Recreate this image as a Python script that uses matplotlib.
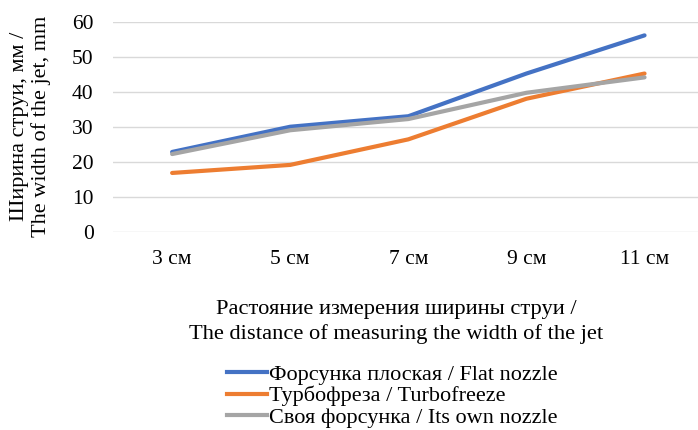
import matplotlib
matplotlib.use("Agg")
import matplotlib.pyplot as plt
from matplotlib.lines import Line2D

categories = ["3 см", "5 см", "7 см", "9 см", "11 см"]
flat = [22.8, 30.0, 33.0, 45.2, 56.1]
turbo = [16.8, 19.1, 26.4, 38.0, 45.2]
own = [22.2, 29.0, 32.2, 39.7, 44.1]
labels = ["Форсунка плоская / Flat nozzle", "Турбофреза / Turbofreeze", "Своя форсунка / Its own nozzle"]
colors = ["#4472C4", "#ED7D31", "#A5A5A5"]

plt.rcParams['font.family'] = ['Liberation Serif', 'DejaVu Serif']

fig = plt.figure(figsize=(6.98, 4.30), dpi=100)
ax = fig.add_axes([0.162, 0.461, 0.846, 0.4885])
x = list(range(len(categories)))
for ys, c, l in zip([flat, turbo, own], colors, labels):
    ax.plot(x, ys, color=c, lw=3.0, label=l, solid_capstyle='round')

ax.set_xlim(-0.5, len(categories) - 0.5)
ax.set_ylim(0, 60)
ax.set_yticks(range(0, 61, 10))
ax.set_xticks(x)
ax.set_xticklabels(categories)
ax.tick_params(axis='both', length=0, labelsize=15.5, colors='#000000')
ax.tick_params(axis='x', pad=13)
ax.tick_params(axis='y', pad=14)
ax.grid(axis='y', color='#D9D9D9', lw=1.0)
ax.set_axisbelow(True)
for s in ax.spines.values():
    s.set_visible(False)

fig.text(0.044, 0.705, "Ширина струи, мм /\nThe width of the jet, mm", rotation=90,
         ha='center', va='center', fontsize=16, linespacing=1.15)
fig.text(0.568, 0.251, "Растояние измерения ширины струи /\nThe distance of measuring the width of the jet",
         ha='center', va='center', fontsize=16.2, linespacing=1.35)

handles = [Line2D([0], [0], color=c, lw=3.0) for c in colors]
fig.legend(handles, labels, loc='center', bbox_to_anchor=(0.562, 0.079), frameon=False,
           fontsize=16, handlelength=1.8, handletextpad=0.1, labelspacing=0.05, borderpad=0)

fig.savefig("out.png", dpi=100)
